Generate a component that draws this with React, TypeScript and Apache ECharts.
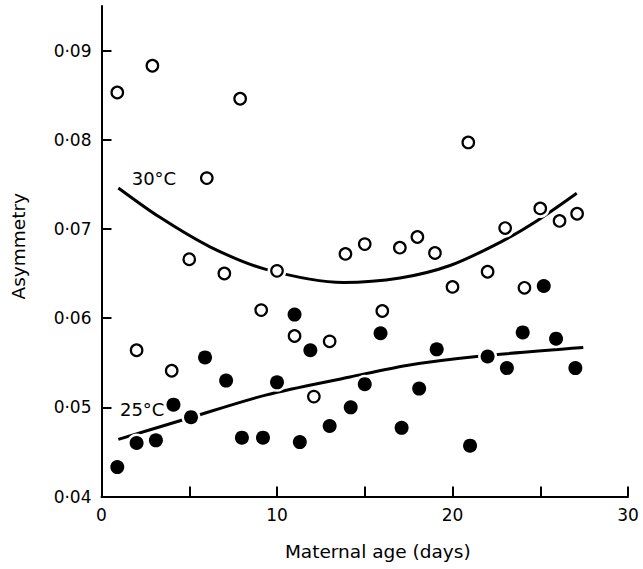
import React, { useEffect, useRef } from 'react';
import * as echarts from 'echarts';

// 30°C (open circles)
const age30 = [0.9, 2.0, 2.9, 4.0, 5.0, 6.0, 7.0, 7.9, 9.1, 10.0, 11.0, 12.1, 13.0, 13.9, 15.0, 16.0, 17.0, 18.0, 19.0, 20.0, 20.9, 22.0, 23.0, 24.1, 25.0, 26.1, 27.1];
const asym30 = [0.0853, 0.0564, 0.0883, 0.0541, 0.0666, 0.0757, 0.065, 0.0846, 0.0609, 0.0653, 0.058, 0.0512, 0.0574, 0.0672, 0.0683, 0.0608, 0.0679, 0.0691, 0.0673, 0.0635, 0.0797, 0.0652, 0.0701, 0.0634, 0.0723, 0.0709, 0.0717];

// 25°C (filled circles)
const age25 = [0.9, 2.0, 3.1, 4.1, 5.1, 5.9, 7.1, 8.0, 9.2, 10.0, 11.0, 11.3, 11.9, 13.0, 14.2, 15.0, 15.9, 17.1, 18.1, 19.1, 21.0, 22.0, 23.1, 24.0, 25.2, 25.9, 27.0];
const asym25 = [0.0433, 0.046, 0.0463, 0.0503, 0.0489, 0.0556, 0.053, 0.0466, 0.0466, 0.0528, 0.0604, 0.0461, 0.0564, 0.0479, 0.05, 0.0526, 0.0583, 0.0477, 0.0521, 0.0565, 0.0457, 0.0557, 0.0544, 0.0584, 0.0636, 0.0577, 0.0544];

// fitted curves
const fit30Age = [0.96, 3.33, 6.18, 9.32, 13.78, 17.01, 19.86, 22.71, 24.8, 27.08];
const fit30Asym = [0.0746, 0.0713, 0.0680, 0.0655, 0.0640, 0.0645, 0.0659, 0.0685, 0.0709, 0.0740];
const fit25Age = [0.96, 4.66, 9.41, 14.16, 17.39, 21.38, 27.45];
const fit25Asym = [0.0464, 0.0486, 0.0514, 0.0534, 0.0547, 0.0557, 0.0567];

// curve labels
const curveLabels = ['30°C', '25°C'];
const curveLabelAge = [1.72, 1.05];
const curveLabelAsym = [0.0757, 0.0498];

// axes
const xTickValues = [0, 5, 10, 15, 20, 25, 30];
const xLabelValues = [0, 10, 20, 30];
const yTickValues = [0.04, 0.05, 0.06, 0.07, 0.08, 0.09];
const yTickLabels = ['0·04', '0·05', '0·06', '0·07', '0·08', '0·09'];
const xTitle = 'Maternal age (days)';
const yTitle = 'Asymmetry';

const FONT = 'DejaVu Sans';
const INK = '#000';

function zip(xs: number[], ys: number[]) {
  return xs.map((x, i) => [x, ys[i]]);
}

export default function App() {
  const ref = useRef<HTMLDivElement>(null);
  useEffect(() => {
    if (!ref.current) return;
    const chart = echarts.init(ref.current, null, { renderer: 'svg' });
    const pts30 = zip(age30, asym30);
    const pts25 = zip(age25, asym25);
    chart.setOption({
      animation: false,
      backgroundColor: '#fff',
      grid: { left: 101.5, right: 15, top: 6, bottom: 72.5, containLabel: false },
      xAxis: {
        type: 'value',
        min: 0,
        max: 30,
        interval: 5,
        name: xTitle,
        nameLocation: 'middle',
        nameGap: 45,
        nameTextStyle: { fontFamily: FONT, fontSize: 18.5, color: INK, padding: [0, 0, 0, 26] },
        axisLine: { show: true, onZero: false, lineStyle: { color: INK, width: 2 } },
        axisTick: { show: true, inside: true, length: 10, lineStyle: { color: INK, width: 2 }, customValues: xTickValues },
        axisLabel: { fontFamily: FONT, fontSize: 17, color: INK, margin: 10, customValues: xLabelValues },
        splitLine: { show: false },
      },
      yAxis: {
        type: 'value',
        min: 0.04,
        max: 0.095,
        name: yTitle,
        nameLocation: 'middle',
        nameGap: 74,
        nameTextStyle: { fontFamily: FONT, fontSize: 18.5, color: INK, padding: [0, 0, 0, 10] },
        axisLine: { show: true, onZero: false, lineStyle: { color: INK, width: 2 } },
        axisTick: { show: true, inside: true, length: 10, lineStyle: { color: INK, width: 2 }, customValues: yTickValues },
        axisLabel: {
          fontFamily: FONT,
          fontSize: 17,
          color: INK,
          margin: 10,
          customValues: yTickValues,
          formatter: (v: number) => {
            const i = yTickValues.findIndex((t) => Math.abs(t - v) < 1e-9);
            return i >= 0 ? yTickLabels[i] : '';
          },
        },
        splitLine: { show: false },
      },
      series: [
        {
          type: 'line',
          data: zip(fit30Age, fit30Asym),
          smooth: 0.3,
          showSymbol: false,
          z: 1,
          silent: true,
          lineStyle: { color: INK, width: 3 },
        },
        {
          type: 'line',
          data: zip(fit25Age, fit25Asym),
          smooth: 0.3,
          showSymbol: false,
          z: 1,
          silent: true,
          lineStyle: { color: INK, width: 3 },
        },
        {
          type: 'scatter',
          data: pts30.concat(pts25),
          symbol: 'circle',
          symbolSize: 19,
          z: 2,
          silent: true,
          itemStyle: { color: '#fff', borderWidth: 0, opacity: 1 },
        },
        {
          type: 'scatter',
          name: '30°C',
          data: pts30,
          symbol: 'circle',
          symbolSize: 11.5,
          z: 3,
          silent: true,
          itemStyle: { color: '#fff', borderColor: INK, borderWidth: 2.2, opacity: 1 },
        },
        {
          type: 'scatter',
          name: '25°C',
          data: pts25,
          symbol: 'circle',
          symbolSize: 14,
          z: 3,
          silent: true,
          itemStyle: { color: INK, opacity: 1 },
        },
        {
          type: 'scatter',
          data: curveLabels.map((t, i) => ({ value: [curveLabelAge[i], curveLabelAsym[i]], name: t })),
          symbolSize: 0,
          z: 4,
          silent: true,
          itemStyle: { opacity: 1 },
          label: {
            show: true,
            position: 'right',
            distance: 0,
            formatter: (p: any) => p.name,
            fontFamily: FONT,
            fontSize: 18,
            color: INK,
          },
        },
      ],
    });
    return () => chart.dispose();
  }, []);
  return (
    <div
      ref={ref}
      style={{ position: 'fixed', left: 0, top: 0, width: 643, height: 569, background: '#fff' }}
    />
  );
}
